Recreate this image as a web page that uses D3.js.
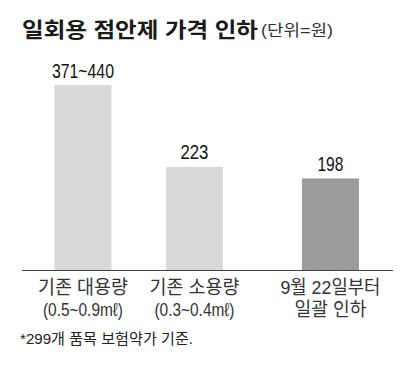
<!DOCTYPE html>
<html><head><meta charset="utf-8">
<script src="https://cdn.jsdelivr.net/npm/d3@7"></script>
<style>body{margin:0;background:#fff}svg{display:block}</style>
</head><body>
<script>
const categories = ["기존 대용량", "기존 소용량", "9월 22일부터"];
const subLabels = ["(0.5~0.9mℓ)", "(0.3~0.4mℓ)", "일괄 인하"];
const values = [400, 223, 198];
const valueLabels = ["371~440", "223", "198"];
const highlight = [false, false, true];
const titleText = "일회용 점안제 가격 인하";
const unitText = "(단위=원)";
const noteText = "*299개 품목 보험약가 기준.";

const W = 400, H = 365;
const svg = d3.select("body").append("svg").attr("width", W).attr("height", H);
const font = "'Liberation Sans', 'Noto Sans CJK KR', sans-serif";

const x = d3.scaleBand().domain(categories).range([27.2, 361.7]).paddingInner(0.489).paddingOuter(0.2445);
const extra = (d, i) => highlight[i] ? 24.5 : 0;
const y = d3.scaleLinear().domain([0, 400]).range([270, 85]);

svg.append("text").attr("x", 22).attr("y", 36.5).attr("font-family", font).attr("font-weight", 700)
  .attr("font-size", 21).attr("fill", "#1a1a1a").attr("textLength", 236).attr("lengthAdjust", "spacingAndGlyphs").text(titleText);
svg.append("text").attr("x", 261).attr("y", 36).attr("font-family", font).attr("font-weight", 400)
  .attr("font-size", 16).attr("fill", "#333").attr("textLength", 72).attr("lengthAdjust", "spacingAndGlyphs").text(unitText);

const g = svg.append("g");
g.selectAll("rect").data(categories).join("rect")
  .attr("x", (d, i) => x(d) + extra(d, i)).attr("width", x.bandwidth())
  .attr("y", (d, i) => y(values[i])).attr("height", (d, i) => y(0) - y(values[i]))
  .attr("fill", (d, i) => highlight[i] ? "#9b9b9b" : "#d9d9d9");

const lblW = [62, 28, 26];
g.selectAll("text.val").data(categories).join("text").attr("class", "val")
  .attr("x", (d, i) => x(d) + extra(d, i) + x.bandwidth() / 2)
  .attr("y", (d, i) => y(values[i]) - 7.5)
  .attr("text-anchor", "middle").attr("font-family", font).attr("font-size", 21)
  .attr("fill", "#111").attr("textLength", (d, i) => lblW[i]).attr("lengthAdjust", "spacingAndGlyphs")
  .text((d, i) => valueLabels[i]);

svg.append("line").attr("x1", 22).attr("x2", 393).attr("y1", y(0) + 0.5).attr("y2", y(0) + 0.5)
  .attr("stroke", "#444").attr("stroke-width", 1);

const catW = [90, 90, 100], subW = [80, 80, 72];
g.selectAll("text.cat").data(categories).join("text").attr("class", "cat")
  .attr("x", (d, i) => x(d) + extra(d, i) + x.bandwidth() / 2).attr("y", 294)
  .attr("text-anchor", "middle").attr("font-family", font).attr("font-size", 19).attr("font-weight", 400).attr("fill", "#333")
  .attr("textLength", (d, i) => catW[i]).attr("lengthAdjust", "spacingAndGlyphs").text(d => d);
g.selectAll("text.sub").data(categories).join("text").attr("class", "sub")
  .attr("x", (d, i) => x(d) + extra(d, i) + x.bandwidth() / 2).attr("y", 315.5)
  .attr("text-anchor", "middle").attr("font-family", font).attr("font-size", 19).attr("font-weight", 400).attr("fill", "#333")
  .attr("textLength", (d, i) => subW[i]).attr("lengthAdjust", "spacingAndGlyphs").text((d, i) => subLabels[i]);

svg.append("text").attr("x", 20).attr("y", 344).attr("font-family", font).attr("font-size", 15).attr("font-weight", 400)
  .attr("fill", "#222").attr("textLength", 173).attr("lengthAdjust", "spacingAndGlyphs").text(noteText);
</script>
</body></html>
